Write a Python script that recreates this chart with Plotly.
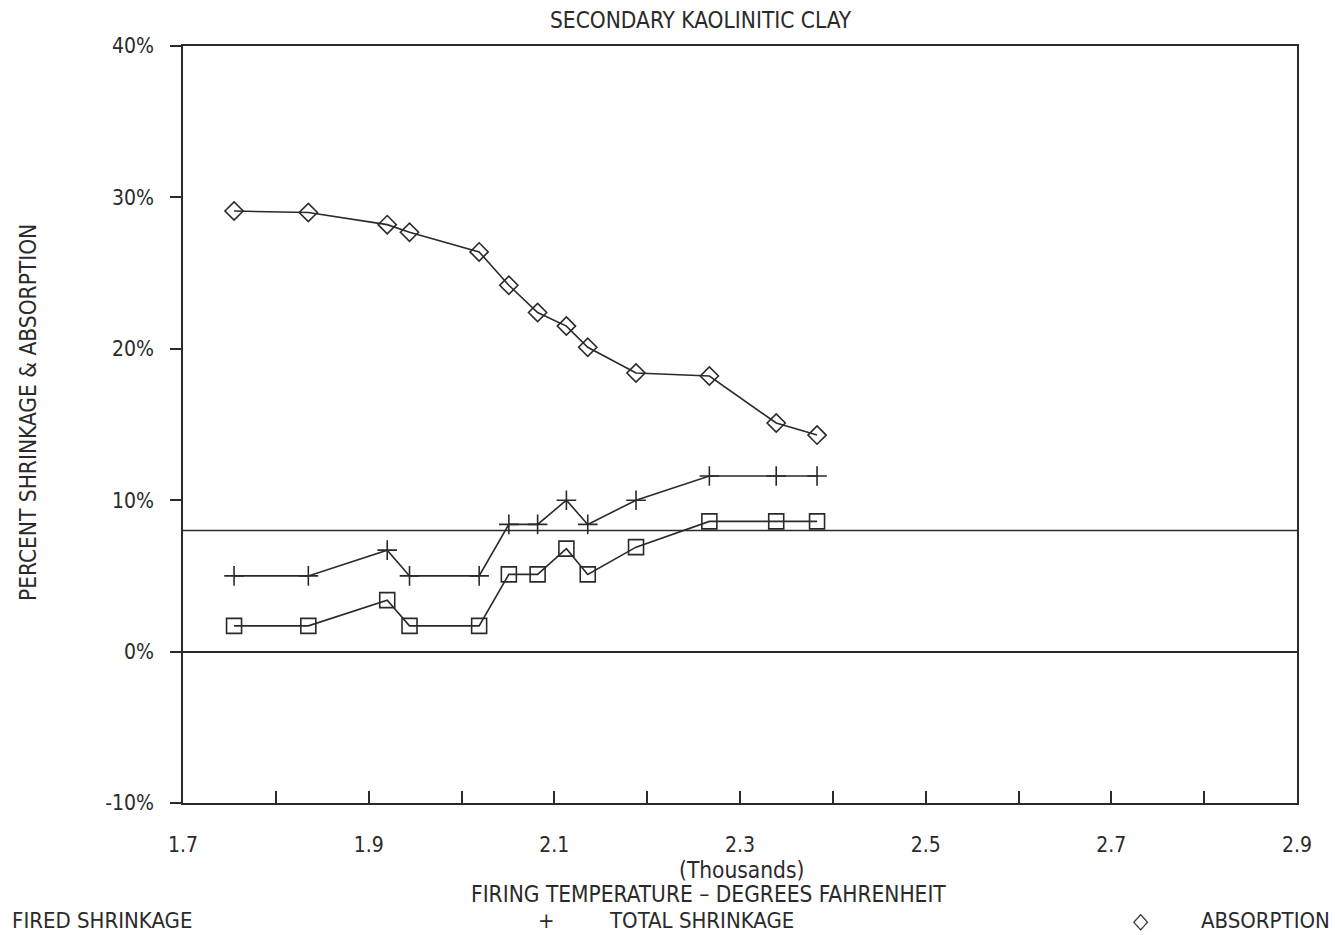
import plotly.graph_objects as go

# ---- data (temperatures in thousands of degrees F, values in %) ----
temperature = [1.755, 1.835, 1.920, 1.944, 2.019, 2.051, 2.082, 2.113, 2.136, 2.188, 2.267, 2.339, 2.383]
fired_shrinkage = [1.7, 1.7, 3.4, 1.7, 1.7, 5.1, 5.1, 6.8, 5.1, 6.9, 8.6, 8.6, 8.6]
total_shrinkage = [5.0, 5.0, 6.7, 5.0, 5.0, 8.4, 8.4, 10.0, 8.4, 10.0, 11.6, 11.6, 11.6]
absorption = [29.1, 29.0, 28.2, 27.7, 26.4, 24.2, 22.4, 21.5, 20.1, 18.4, 18.2, 15.1, 14.3]
reference_line = 8.0

x_ticks = [1.7, 1.9, 2.1, 2.3, 2.5, 2.7, 2.9]
y_ticks = [-10, 0, 10, 20, 30, 40]

FONT = "DejaVu Sans Condensed, Liberation Sans Narrow, DejaVu Sans, sans-serif"
INK = "#2a2a2a"
TXT = 22

W, H = 1335, 935
L, R, T, B = 183, 1297, 46, 803

fig = go.Figure()
line = dict(color=INK, width=1.6)
fig.add_trace(go.Scatter(x=temperature, y=fired_shrinkage, mode="lines+markers", name="FIRED SHRINKAGE",
                         line=line, marker=dict(symbol="square-open", size=15, color=INK, line=dict(width=1.6))))
fig.add_trace(go.Scatter(x=temperature, y=total_shrinkage, mode="lines+markers", name="TOTAL SHRINKAGE",
                         line=line, marker=dict(symbol="cross-thin-open", size=14, color=INK, line=dict(width=1.6, color=INK))))
fig.add_trace(go.Scatter(x=temperature, y=absorption, mode="lines+markers", name="ABSORPTION",
                         line=line, marker=dict(symbol="diamond-open", size=14, color=INK, line=dict(width=1.6))))

fig.add_shape(type="line", xref="paper", x0=0, x1=1, yref="y", y0=reference_line, y1=reference_line,
              line=dict(color=INK, width=1.6))

fig.update_layout(
    width=W, height=H,
    margin=dict(l=L, r=W - R, t=T, b=H - B),
    paper_bgcolor="white", plot_bgcolor="white",
    showlegend=False,
    font=dict(family=FONT, size=TXT, color=INK),
)
fig.update_xaxes(range=[1.7, 2.9], tickvals=x_ticks, ticktext=[f"{v:.1f}" for v in x_ticks],
                 ticks="inside", ticklen=12, tickwidth=1.5, tickcolor=INK, ticklabelstandoff=22,
                 minor=dict(dtick=0.1, tick0=1.7, ticks="inside", ticklen=12, tickwidth=1.5, tickcolor=INK),
                 showgrid=False, zeroline=False, showline=True, linecolor=INK, linewidth=1.6, mirror=True,
                 tickfont=dict(size=21))
fig.update_yaxes(range=[-10, 40], tickvals=y_ticks, ticktext=[f"{v}%" for v in y_ticks],
                 ticks="outside", ticklen=11, tickwidth=1.5, tickcolor=INK, ticklabelstandoff=12,
                 showgrid=False, zeroline=True, zerolinecolor=INK, zerolinewidth=1.6,
                 showline=True, linecolor=INK, linewidth=1.6, mirror=True,
                 tickfont=dict(size=21))


def px(x):
    return (x - L) / (R - L)


def py(y):
    return 1 - (y - T) / (B - T)


ann = [
    ("SECONDARY KAOLINITIC CLAY", 701, 20, 0),
    ("(Thousands)", 741, 870, 0),
    ("FIRING TEMPERATURE – DEGREES FAHRENHEIT", 708, 894, 0),
    ("PERCENT SHRINKAGE & ABSORPTION", 28, 413, -90),
]
for text, x, y, ang in ann:
    fig.add_annotation(text=text, xref="paper", yref="paper", x=px(x), y=py(y), textangle=ang,
                       showarrow=False, xanchor="center", yanchor="middle", font=dict(size=22.5))

legend_items = [
    ("", "FIRED SHRINKAGE", -10, 10, "left"),
    ("+", "TOTAL SHRINKAGE", 546, 607, "left"),
    ("◇", "ABSORPTION", 1141, 1332, "right"),
]
for sym, label, sx, tx, anchor in legend_items:
    if sym:
        fig.add_annotation(text=sym, xref="paper", yref="paper", x=px(sx), y=py(921),
                           showarrow=False, xanchor="center", yanchor="middle", font=dict(size=TXT))
    fig.add_annotation(text=label, xref="paper", yref="paper", x=px(tx), y=py(921),
                       showarrow=False, xanchor=anchor, yanchor="middle", font=dict(size=TXT))

fig.write_html("out.html", config={"displayModeBar": False},
               post_script="document.body.style.margin='0';document.body.style.overflow='hidden';")
